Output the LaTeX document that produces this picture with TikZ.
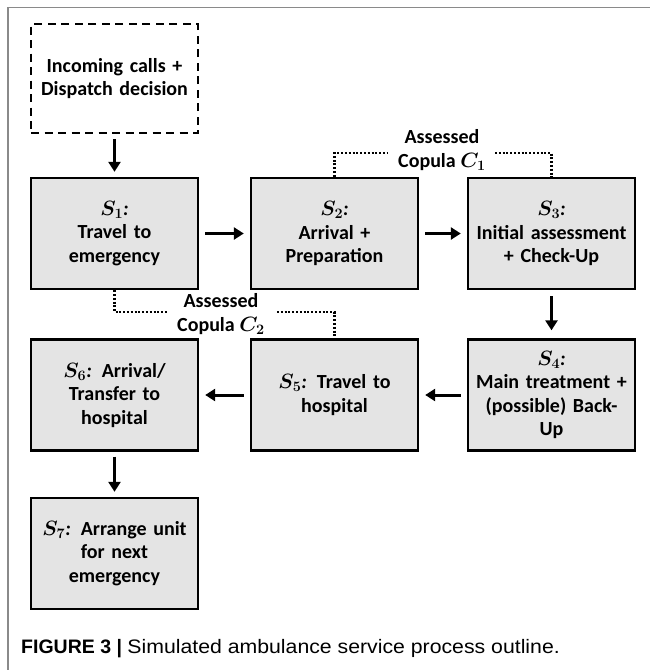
\documentclass[tikz,border=0pt]{standalone}
\usepackage{fontspec}
\setmainfont{Carlito}
\newfontfamily\capfont{Liberation Sans}
\usetikzlibrary{arrows.meta}
\definecolor{boxfill}{HTML}{E4E4E4}
\definecolor{framegray}{HTML}{8A8A8A}
\begin{document}
\begin{tikzpicture}[x=1pt,y=-1pt,
  procbox/.style={draw=black, line width=2.4pt, fill=boxfill, minimum width=167pt, minimum height=111pt,
    text width=162pt, align=center, inner sep=0pt, font=\fontsize{20}{23.5}\selectfont\bfseries\boldmath},
  dashbox/.style={procbox, fill=none, line width=2.2pt, dash pattern=on 8pt off 5.5pt, minimum height=109pt},
  flow/.style={line width=3pt, -{Triangle[length=10pt,width=12pt]}, shorten <=5pt, shorten >=5pt},
  dotline/.style={line width=2.2pt, dash pattern=on 2pt off 1.8pt},
  lbl/.style={align=center, inner sep=0pt, font=\fontsize{20}{24}\selectfont\bfseries\boldmath}
]
\useasboundingbox (0,0) rectangle (650,670);
\draw[framegray, line width=1.5pt] (8,670) -- (8,7.5) -- (650,7.5);

\node[dashbox] (inc) at (114.5,78.5) {Incoming calls +\\Dispatch decision};
\node[procbox] (s1) at (114.5,233.5) {$S_1$\textit{:}\\Travel to\\emergency};
\node[procbox] (s2) at (334.5,233.5) {$S_2$\textit{:}\\Arrival +\\Preparation};
\node[procbox] (s3) at (551.5,233.5) {$S_3$\textit{:}\\Initial assessment\\+ Check-Up};
\node[procbox] (s4) at (551.5,395) {$S_4$\textit{:}\\Main treatment +\\(possible) Back-\\Up};
\node[procbox] (s5) at (334.5,395) {$S_5$\textit{:} Travel to\\hospital};
\node[procbox] (s6) at (114.5,395) {$S_6$\textit{:} Arrival/\\Transfer to\\hospital};
\node[procbox] (s7) at (114.5,553.5) {$S_7$\textit{:} Arrange unit\\for next\\emergency};

\draw[flow] (inc) -- (s1);
\draw[flow, shorten <=6pt, shorten >=6pt] (s1) -- (s2);
\draw[flow, shorten <=6pt, shorten >=6pt] (s2) -- (s3);
\draw[flow, shorten <=6pt, shorten >=8pt] (s3) -- (s4);
\draw[flow, shorten <=6pt, shorten >=6pt] (s4) -- (s5);
\draw[flow, shorten <=6pt, shorten >=6pt] (s5) -- (s6);
\draw[flow] (s6) -- (s7);

\node[lbl] (c1) at (442,150) {Assessed\\Copula $C_1$};
\coordinate (c1l) at (388,153);
\coordinate (c1r) at (495,153);
\draw[dotline] (s2.north) |- (c1l);
\draw[dotline] (c1r) -| (s3.north);

\node[lbl] (c2) at (221,314) {Assessed\\Copula $C_2$};
\coordinate (c2l) at (167,312);
\coordinate (c2r) at (277,312);
\draw[dotline] (s1.south) |- (c2l);
\draw[dotline] (c2r) -| (s5.north);

\node[anchor=west, inner sep=0pt, font=\capfont\fontsize{19.5}{22}\selectfont] (cap) at (21,649)
  {\textbf{FIGURE 3 |} \scalebox{1.09}[1]{Simulated ambulance service process outline.}};
\end{tikzpicture}
\end{document}
